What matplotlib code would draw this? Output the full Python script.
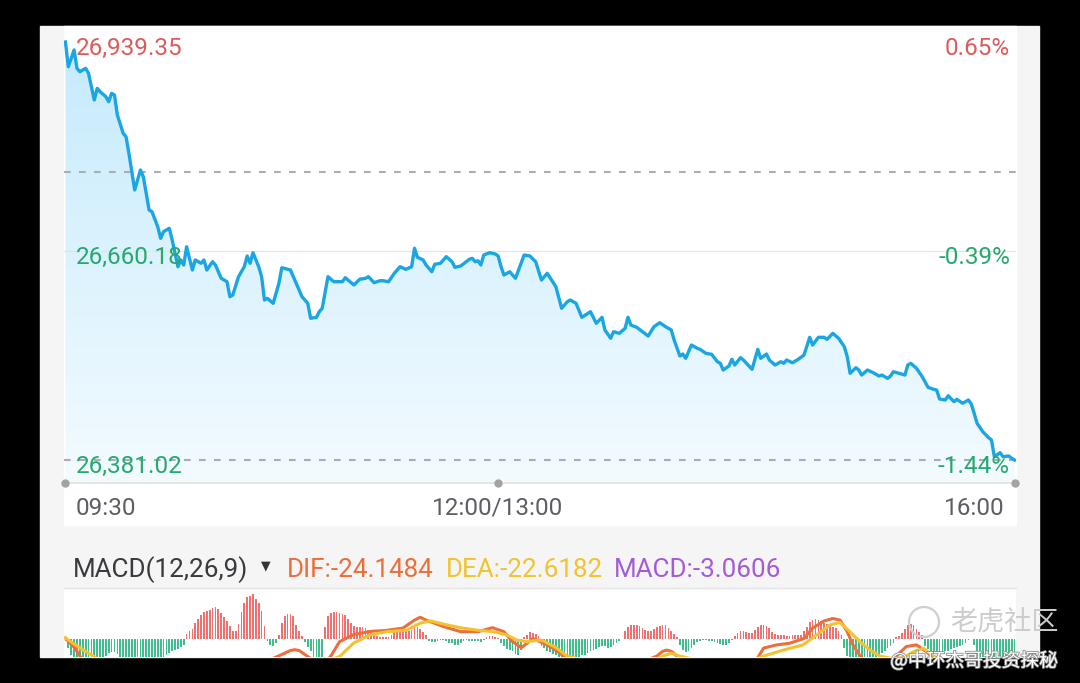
import numpy as np
import matplotlib
matplotlib.use("Agg")
import matplotlib.pyplot as plt
from matplotlib.patches import Rectangle, Circle
from matplotlib.colors import LinearSegmentedColormap
import matplotlib.patheffects as pe

W, H = 1080, 683

# intraday index, (trading minute since 09:30 with lunch removed, price)
price_ticks = [
    (0, 26939.35), (1, 26906.3), (3, 26928.7), (4, 26904.2), (5, 26899.7), (7, 26904.2),
    (8, 26897.5), (10, 26861.9), (11, 26877.5), (12, 26873.0), (14, 26866.3), (15, 26859.6),
    (16, 26870.8), (17, 26868.5), (18, 26841.8), (20, 26817.4), (21, 26812.9), (22, 26790.7),
    (24, 26741.7), (26, 26768.4), (27, 26759.4), (29, 26715.0), (30, 26712.7), (32, 26692.6),
    (33, 26677.1), (34, 26686.0), (36, 26690.5), (37, 26674.9), (39, 26639.2), (40, 26648.2),
    (41, 26641.5), (42, 26665.9), (44, 26634.8), (45, 26648.2), (47, 26643.8), (48, 26648.2),
    (49, 26634.8), (51, 26645.9), (52, 26641.5), (54, 26623.7), (56, 26619.2), (57, 26599.1),
    (58, 26601.4), (60, 26625.9), (62, 26639.2), (63, 26653.5), (64, 26643.8), (65, 26657.9),
    (67, 26639.2), (68, 26625.9), (69, 26594.7), (70, 26597.0), (72, 26590.3), (74, 26617.0),
    (75, 26637.9), (78, 26634.8), (79, 26625.9), (82, 26599.1), (84, 26590.3), (85, 26570.3),
    (87, 26571.6), (88, 26579.1), (89, 26583.6), (91, 26625.9), (93, 26619.2), (96, 26619.2),
    (97, 26624.5), (100, 26614.8), (102, 26622.4), (104, 26623.7), (105, 26625.9), (107, 26617.9),
    (109, 26620.5), (110, 26620.5), (112, 26619.2), (114, 26630.4), (116, 26639.2), (118, 26635.7),
    (120, 26639.2), (121, 26663.8), (122, 26651.8), (124, 26648.2), (125, 26641.5), (127, 26632.5),
    (128, 26642.4), (130, 26643.8), (132, 26652.6), (134, 26645.9), (135, 26638.4), (137, 26640.1),
    (140, 26649.1), (141, 26650.4), (142, 26645.9), (143, 26647.2), (144, 26641.5), (145, 26654.8),
    (147, 26657.9), (149, 26656.2), (150, 26653.5), (151, 26639.2), (152, 26628.1), (154, 26632.5),
    (156, 26623.7), (159, 26654.8), (161, 26653.5), (163, 26645.9), (165, 26621.4), (167, 26630.4),
    (170, 26612.5), (172, 26583.6), (174, 26592.5), (175, 26594.7), (177, 26590.3), (179, 26571.6),
    (182, 26579.1), (184, 26563.6), (186, 26571.6), (187, 26554.7), (189, 26543.6), (190, 26552.4),
    (192, 26550.2), (194, 26556.9), (195, 26571.6), (196, 26561.3), (198, 26558.3), (200, 26552.4),
    (202, 26546.6), (204, 26559.1), (206, 26564.4), (208, 26559.1), (210, 26554.7), (211, 26541.3),
    (213, 26519.9), (214, 26522.6), (215, 26516.8), (217, 26534.6), (219, 26530.2), (220, 26528.8),
    (222, 26523.5), (224, 26522.2), (226, 26512.3), (227, 26510.2), (228, 26501.2), (230, 26506.6),
    (231, 26515.5), (232, 26507.9), (234, 26517.7), (235, 26514.6), (238, 26502.2), (240, 26528.8),
    (241, 26516.8), (243, 26522.6), (244, 26514.6), (246, 26507.9), (248, 26512.3), (249, 26510.2),
    (250, 26514.6), (252, 26510.9), (254, 26515.5), (256, 26521.2), (258, 26544.9), (259, 26534.6),
    (261, 26544.9), (263, 26544.9), (264, 26542.2), (266, 26550.2), (268, 26543.6), (270, 26532.3),
    (271, 26519.0), (272, 26496.8), (274, 26504.3), (275, 26501.2), (276, 26494.5), (278, 26501.2),
    (280, 26497.6), (282, 26493.2), (283, 26494.5), (285, 26490.1), (286, 26493.2), (287, 26498.9),
    (289, 26496.8), (291, 26494.5), (292, 26507.9), (293, 26510.2), (295, 26503.5), (297, 26492.3),
    (299, 26478.1), (301, 26475.4), (302, 26474.5), (303, 26462.5), (305, 26461.2), (306, 26466.9),
    (308, 26458.9), (309, 26462.1), (311, 26456.8), (313, 26461.2), (314, 26455.8), (315, 26443.4),
    (316, 26430.0), (318, 26418.8), (320, 26410.8), (321, 26407.7), (322, 26385.4), (324, 26390.8),
    (325, 26385.4), (327, 26386.4), (328, 26383.3), (329, 26381.02),
]
prev_close = 26765.4
time_ticks = [0, 150, 329]
time_labels = ["09:30", "12:00/13:00", "16:00"]

# MACD(12,26,9) histogram, one bar per minute
macd_hist = [
    -0.3, -1.2, -2.0, -2.6, -3.0, -3.3, -3.5, -3.6, -3.6, -3.5,
    -3.4, -3.2, -3.0, -2.6, -2.2, -1.8, -1.7, -1.7, -1.9, -2.4,
    -2.8, -3.2, -3.5, -3.8, -4.0, -4.2, -4.3, -4.2, -4.0, -3.7,
    -3.4, -3.1, -2.8, -2.6, -2.3, -2.0, -1.8, -1.6, -1.45, -1.25,
    -1.05, -0.8,
    0.6, 1.0, 1.2, 1.9, 2.5, 2.9, 3.3, 3.4, 3.6, 3.8, 3.9, 3.7, 3.2, 2.7,
    2.2, 1.6, 1.0, 0.9, 1.8, 3.3, 4.4, 5.2, 5.3, 5.6, 5.0, 4.4, 3.4, 1.6,
    -0.3, -0.8, -0.9, -0.5,
    0.5, 2.0, 2.8, 3.1, 3.1, 2.8, 1.7, 1.0, 0.3,
    -0.4, -1.0, -1.6, -2.4, -2.8, -2.8, -2.5,
    1.4, 2.8, 3.2, 3.3, 3.3, 3.2, 3.1, 3.0, 2.5, 1.9,
    1.6, 1.5, 1.5, 1.4, 1.3, 1.1, 1.0, 0.6, 0.3, 0.25,
    0.2, 0.15, 0.2, 0.5, 0.8, 0.9, 0.9, 0.9, 0.9, 1.0,
    1.1, 1.4, 1.4, 1.2, 0.8, 0.4,
    -0.3, -0.4, -0.4, -0.3, -0.2, -0.2, -0.3, -0.5, -0.6, -0.8,
    -0.8, -0.6, -0.3, -0.2, -0.3, -0.35, -0.25, -0.3, -0.4, -0.2,
    0.25, 0.35, 0.35, 0.25, 0.1,
    -0.6, -0.9, -1.25, -1.45, -1.6, -1.9, -2.1, -1.4,
    0.2, 0.4, 0.8, 0.75, 0.6, 0.3,
    -0.9, -1.2, -1.5, -1.7, -1.9, -2.1, -2.3, -2.5, -2.7, -2.8,
    -2.8, -2.7, -2.5, -2.3, -2.1, -2.0, -1.8, -1.6, -1.45, -1.3,
    -1.05, -0.9, -0.9, -1.15, -1.0, -0.8, -0.55, -0.25, -0.1,
    1.0, 1.5, 1.7, 1.75, 1.75, 1.6, 1.3, 1.1, 0.95, 0.95,
    1.2, 1.45, 1.6, 1.65, 1.65, 1.35, 1.0, 0.6, 0.2,
    -0.85, -1.4, -1.65, -1.55, -1.2, -0.8, -0.45, -0.3, -0.2, -0.2,
    -0.3, -0.35, -0.45, -0.55, -0.65, -0.85, -0.75, -0.5, -0.15,
    0.3, 0.7, 0.95, 1.0, 0.85, 0.65, 0.75, 1.1, 1.5, 1.65,
    1.65, 1.6, 1.35, 0.8, 0.55, 0.45, 0.4, 0.4, 0.35, 0.35,
    0.4, 0.4, 0.45, 0.5, 0.9, 1.5, 2.1, 2.3, 2.4, 2.35,
    2.2, 2.0, 1.8, 1.65, 1.5, 1.3, 0.9, 0.4,
    -1.2, -2.2, -3.0, -3.5, -3.8, -3.9, -3.9, -3.7, -3.4, -3.1,
    -2.8, -2.5, -2.1, -1.8, -1.5, -1.2, -0.9, -0.5,
    0.2, 0.35, 0.7, 1.2, 1.7, 1.85, 1.65, 1.25, 0.85, 0.45,
    -0.9, -1.35, -1.55, -1.6, -1.65, -1.65, -1.65, -1.6, -1.5, -1.35,
    -1.2, -1.05, -0.95, -0.85, -0.55, -0.2,
    -0.1, -0.8, -1.6, -2.4, -3.0, -3.4, -3.7, -3.9, -4.0, -3.9,
    -3.8, -3.7, -3.5, -3.3, -3.15, -3.0606,
]
dif_points = [
    (0, 0.06), (1.6, -0.6), (3.3, -1.2), (5, -2.2), (8, -4), (12, -6), (18, -8), (24, -11),
    (30, -13), (36, -12), (42, -9), (50, -6), (58, -4.5), (64, -3), (70, -2.8), (75, -2.0),
    (78, -1.5), (79.5, -1.4), (81, -1.5), (83, -2.0), (87, -3.0), (91, -2.6), (92, -2.2),
    (95, -0.4), (100, 0.5), (106, 0.9), (111, 1.0), (117, 1.3), (121, 2.3), (123, 2.65),
    (125, 2.3), (131, 1.5), (137, 0.85), (143, 0.85), (148, 1.35), (152, 0.85), (155, -0.4),
    (158, -1.15), (160, -0.6), (162, 0.0), (164.5, -0.4), (168, -1.0), (171.5, -1.85),
    (172.5, -2.2), (180, -3.5), (190, -4), (198, -3.2), (205, -2.2), (207, -1.6), (208.5, -1.45),
    (210, -1.6), (212, -2.2), (220, -3.5), (230, -4), (236, -3.2), (240, -2.4), (242, -1.2),
    (246.5, -0.8), (251, -0.6), (256, 0.0), (259, 1.3), (263, 2.2), (266, 2.5), (268.5, 2.3),
    (271, 0.85), (273, -0.8), (275.5, -2.2), (280, -3.5), (285, -3.2), (288, -2.2), (291.5, -1.0),
    (295, -0.8), (298.5, -1.65), (300, -2.2), (305, -4), (312, -4.5), (316, -6), (320, -12),
    (324, -19), (329, -24.1484),
]
dea_points = [
    (0, 0.06), (2.7, -0.6), (6.2, -1.45), (9.7, -2.2), (15, -3.5), (24, -6.5), (32, -9),
    (40, -10), (50, -8.5), (60, -6.5), (70, -4.8), (80, -3.5), (90, -3.0), (95.2, -2.2),
    (99.8, -0.6), (105.6, 0.45), (111.4, 0.85), (118.3, 1.05), (122.9, 1.9), (126.4, 2.2),
    (131, 1.8), (136.8, 1.35), (142.6, 1.05), (148.3, 0.85), (153, 0.45), (156.5, -0.2),
    (159.9, -0.4), (164.5, -0.2), (165.6, -0.3), (170.3, -1.2), (173.8, -2.2), (185, -3.2),
    (198, -3.5), (205, -2.6), (207, -2.2), (210, -1.85), (213, -2.2), (225, -3.2), (235, -3.2),
    (242, -2.2), (248.8, -1.45), (255.7, -0.8), (260.4, 0.45), (265, 1.7), (268.5, 2.0),
    (271.9, 0.85), (275.4, -0.4), (278.9, -1.45), (282.3, -2.2), (288, -2.6), (291, -2.3),
    (294, -1.65), (297.4, -1.2), (300.8, -2.2), (310, -3.5), (316, -5.5), (320, -10.5),
    (324, -17), (329, -22.6182),
]
dif_last, dea_last, macd_last = -24.1484, -22.6182, -3.0606

RED = "#DE5B5B"
GREEN = "#27A86E"
LINE = "#1AA6E2"
DIF_C = "#EC6E3A"
DEA_C = "#F2C230"
MACD_C = "#A55BD8"
GRAY_BG = "#f5f5f5"

plt.rcParams["font.family"] = ["Roboto", "DejaVu Sans"]
plt.rcParams["lines.scale_dashes"] = False


def fx(px):
    return px / W


def fy(py):
    return 1 - py / H


def px_rect(fig, x0, y0, x1, y1, color):
    fig.patches.append(Rectangle((fx(x0), fy(y1)), (x1 - x0) / W, (y1 - y0) / H,
                                 transform=fig.transFigure, color=color, zorder=-5))


fig = plt.figure(figsize=(W / 100, H / 100), dpi=100, facecolor="black")
px_rect(fig, 40, 26, 1039, 657, GRAY_BG)
px_rect(fig, 64, 26, 1016, 525, "white")

t = np.array([a for a, b in price_ticks], dtype=float)
p = np.array([b for a, b in price_ticks])
hi, lo = p.max(), p.min()
mid = (hi + lo) / 2
step = (hi - lo) / 418.0

# ---------------- price panel ----------------
ax = fig.add_axes([fx(64), fy(483), fx(1016) - fx(64), fy(26) - fy(483)])
ax.set_facecolor("none")
ax.set_xlim(-0.5, 329.5)
y0, y1 = lo - 23 * step, hi + 16 * step
ax.set_ylim(y0, y1)
for s in ["top", "left", "right"]:
    ax.spines[s].set_visible(False)
ax.spines["bottom"].set_color("#e2e2e2")
ax.spines["bottom"].set_linewidth(1.2)
ax.set_xticks([])
ax.set_yticks([])

fill = ax.fill_between(t, p, y0, color="none", lw=0)
grad = np.linspace(1, 0, 256).reshape(-1, 1)
cmap = LinearSegmentedColormap.from_list("fillgrad", ["#f3fbff", "#c4eafc"])
im = ax.imshow(grad, extent=[-0.5, 329.5, y0, y1], aspect="auto", cmap=cmap,
               vmin=0, vmax=1, zorder=1)
im.set_clip_path(fill.get_paths()[0], transform=ax.transData)

ax.axhline(mid, color="#e3e3e3", lw=0.9, zorder=1.5)
ax.axhline(prev_close, color="#a9adb6", lw=1.5, dashes=(4.8, 6.0), zorder=1.5)
ax.axhline(lo, color="#a9adb6", lw=1.5, dashes=(4.8, 6.0), zorder=1.5)
ax.plot(t, p, color=LINE, lw=2.4, solid_joinstyle="round", zorder=3)
ax.plot(time_ticks, [y0] * 3, "o", ms=5, color="#a3a3a3", clip_on=False, zorder=4)

for val, col in [(hi, RED), (mid, GREEN), (lo, GREEN)]:
    pct = (val / prev_close - 1) * 100
    ax.annotate(f"{val:,.2f}", xy=(0, val), xycoords=("axes fraction", "data"),
                xytext=(12, -13), textcoords="offset pixels", ha="left", va="baseline",
                fontsize=17.5, color=col, zorder=5)
    ax.annotate(f"{pct:.2f}%", xy=(1, val), xycoords=("axes fraction", "data"),
                xytext=(-6, -13), textcoords="offset pixels", ha="right", va="baseline",
                fontsize=17.5, color=col, zorder=5)

for tk, lab, dx, ha in zip(time_ticks, time_labels, [10.6, -1, -9.6], ["left", "center", "right"]):
    ax.annotate(lab, xy=(tk, y0), xycoords="data", xytext=(dx, -32),
                textcoords="offset pixels", ha=ha, va="baseline", fontsize=17.5,
                color="#5c5e63", annotation_clip=False)

# ---------------- MACD header ----------------
fig.text(fx(73), fy(577), "MACD(12,26,9)", fontsize=18.7, color="#3a3a3e", va="baseline")
fig.text(fx(266), fy(566), "\u25bc", fontsize=9, color="#333333", ha="center", va="center",
         family=["DejaVu Sans"])
fig.text(fx(287), fy(577), f"DIF:{dif_last:.4f}", fontsize=18.7, color=DIF_C, va="baseline")
fig.text(fx(446), fy(577), f"DEA:{dea_last:.4f}", fontsize=18.7, color=DEA_C, va="baseline")
fig.text(fx(614), fy(577), f"MACD:{macd_last:.4f}", fontsize=18.7, color=MACD_C, va="baseline")

# ---------------- MACD panel ----------------
mx = fig.add_axes([fx(64), fy(657), fx(1016) - fx(64), fy(588) - fy(657)])
mx.set_facecolor("white")
mx.set_xlim(-0.5, 329.5)
mx.set_ylim(-18.5 / 8, 50.5 / 8)
for s in ["bottom", "left", "right"]:
    mx.spines[s].set_visible(False)
mx.spines["top"].set_color("#e4e4e4")
mx.spines["top"].set_linewidth(1.0)
mx.set_xticks([])
mx.set_yticks([])

hist = np.array(macd_hist)
bx = np.arange(len(hist))
cols = np.where(hist >= 0, "#F07070", "#3DBE8C")
mx.bar(bx, hist, width=0.6, color=cols, linewidth=0, zorder=2)
mx.plot([a for a, b in dif_points], [b for a, b in dif_points], color=DIF_C, lw=2.2, zorder=3)
mx.plot([a for a, b in dea_points], [b for a, b in dea_points], color=DEA_C, lw=2.2, zorder=4)

# ---------------- watermark ----------------
fig.patches.append(Circle((9.24, (H - 622) / 100), 0.15, transform=fig.dpi_scale_trans,
                          fill=False, ec="#cfcfcf", lw=1.6, zorder=6))
fig.text(fx(1004), fy(622), "老虎社区", fontsize=19.5, color="#cccccc", ha="center",
         va="center", family=["Noto Sans CJK SC", "DejaVu Sans"], zorder=7)
fig.text(fx(974), fy(661), "@中环杰哥投资探秘", fontsize=13.5, color="white", ha="center",
         va="center", family=["Noto Sans CJK SC", "DejaVu Sans"], zorder=7,
         path_effects=[pe.withStroke(linewidth=1.2, foreground="#8a8a8a")])

fig.savefig("out.png", dpi=100, facecolor="black")
